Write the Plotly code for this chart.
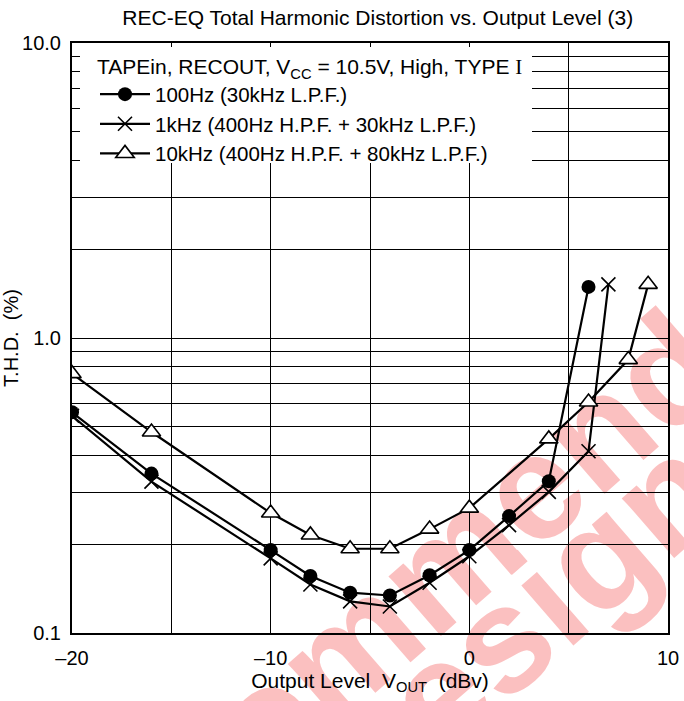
import plotly.graph_objects as go

# ---- data ----
x_100hz = [-20, -16, -10, -8, -6, -4, -2, 0, 2, 4, 6]
thd_100hz = [0.56, 0.347, 0.191, 0.156, 0.137, 0.134, 0.157, 0.191, 0.249, 0.327, 1.49]

x_1khz = [-20, -16, -10, -8, -6, -4, -2, 0, 2, 4, 6, 7]
thd_1khz = [0.545, 0.326, 0.179, 0.146, 0.128, 0.123, 0.148, 0.182, 0.232, 0.301, 0.413, 1.52]

x_10khz = [-20, -16, -10, -8, -6, -4, -2, 0, 4, 6, 8, 9]
thd_10khz = [0.757, 0.48, 0.255, 0.215, 0.193, 0.193, 0.225, 0.265, 0.455, 0.607, 0.845, 1.52]

series_names = ["100Hz (30kHz L.P.F.)",
                "1kHz (400Hz H.P.F. + 30kHz L.P.F.)",
                "10kHz (400Hz H.P.F. + 80kHz L.P.F.)"]

x_tickvals = [-20, -15, -10, -5, 0, 5, 10]
x_ticktext = ["\u201320", "", "\u201310", "", "0", "", "10"]
y_tickvals = [0.1, 1.0, 10.0]
y_ticktext = ["0.1", "1.0", "10.0"]
y_minor = [0.2, 0.3, 0.4, 0.5, 0.6, 0.7, 0.8, 0.9, 2, 3, 4, 5, 6, 7, 8, 9]

watermark_lines = ["Not Recommended", "for New Design"]

FONT = "Liberation Sans"
W, H = 684, 701
ML, MR, MT, MB = 72, 16, 43, 68

fig = go.Figure()

fig.add_trace(go.Scatter(
    x=x_100hz, y=thd_100hz, name=series_names[0], mode="lines+markers",
    line=dict(color="black", width=2.2),
    marker=dict(symbol="circle", size=14, color="black")))
fig.add_trace(go.Scatter(
    x=x_1khz, y=thd_1khz, name=series_names[1], mode="lines+markers",
    line=dict(color="black", width=2.2),
    marker=dict(symbol="x-thin", size=14, color="black", line=dict(color="black", width=1.6))))
fig.add_trace(go.Scatter(
    x=x_10khz, y=thd_10khz, name=series_names[2], mode="lines+markers",
    line=dict(color="black", width=2.2),
    marker=dict(symbol="triangle-up", size=16, color="white", line=dict(color="black", width=1.6))))

def px_to_paper(px, py):
    return (px - ML) / (W - ML - MR), (H - MB - py) / (H - MT - MB)

# watermark text, drawn beneath the grid and the curves (partly outside the page, as in the reference)
ux, uy = 0.755, -0.656   # text direction in pixels (about 41 deg upward)
for txt, (cx, cy) in zip(watermark_lines, [(308, 664), (280, 813)]):
    x0, y0 = px_to_paper(cx - 100 * ux, cy - 100 * uy)
    x1, y1 = px_to_paper(cx + 100 * ux, cy + 100 * uy)
    fig.add_shape(type="line", xref="paper", yref="paper", x0=x0, y0=y0, x1=x1, y1=y1,
                  line=dict(width=0, color="rgba(0,0,0,0)"), layer="below",
                  label=dict(text="<b>" + txt + "</b>", textposition="middle",
                             yanchor="middle", padding=0,
                             font=dict(family=FONT, size=150, color="rgb(251,192,192)")))

# white panel behind the legend (it hides the grid there, as in the reference)
lx0, ly0 = px_to_paper(80, 163)
lx1, ly1 = px_to_paper(532, 47)
fig.add_shape(type="rect", xref="paper", yref="paper", x0=lx0, y0=ly0, x1=lx1, y1=ly1,
              line=dict(width=0), fillcolor="white", layer="above")

fig.update_layout(
    width=W, height=H,
    margin=dict(l=ML, r=MR, t=MT, b=MB, autoexpand=False),
    paper_bgcolor="white", plot_bgcolor="rgba(0,0,0,0)",
    font=dict(family=FONT, size=20, color="black"),
    title=dict(text="REC-EQ Total Harmonic Distortion vs. Output Level (3)",
               xref="paper", x=0.513, xanchor="center", y=0.975, yanchor="middle",
               font=dict(size=21)),
    legend=dict(
        title=dict(text="TAPEin, RECOUT, V<sub>CC</sub> = 10.5V, High, TYPE "
                        "<span style=\"font-family:Liberation Serif\">I</span>",
                   font=dict(size=21)),
        x=px_to_paper(95, 0)[0], y=px_to_paper(0, 47)[1], xanchor="left", yanchor="top",
        bgcolor="rgba(0,0,0,0)", borderwidth=0, font=dict(size=20.5),
        itemwidth=50),
    xaxis=dict(range=[-20, 10], tickvals=x_tickvals, ticktext=x_ticktext,
               showgrid=True, gridcolor="black", gridwidth=1,
               showline=True, linecolor="black", linewidth=2, mirror=True,
               ticks="", ticklabelstandoff=6, zeroline=False,
               tickfont=dict(size=20),
               title=dict(text="Output Level\u00a0\u00a0V<sub>OUT</sub>\u00a0\u00a0(dBv)", standoff=4,
                          font=dict(size=21))),
    yaxis=dict(type="log", range=[-1, 1], tickvals=y_tickvals, ticktext=y_ticktext,
               showgrid=True, gridcolor="black", gridwidth=1,
               minor=dict(tickvals=y_minor, showgrid=True, gridcolor="black", gridwidth=1, ticks=""),
               showline=True, linecolor="black", linewidth=2, mirror=True,
               ticks="", ticklabelstandoff=5, zeroline=False,
               tickfont=dict(size=20),
               title=dict(text="T.H.D.\u00a0\u00a0(%)", standoff=4, font=dict(size=20))),
)

fig.write_html("out.html")
